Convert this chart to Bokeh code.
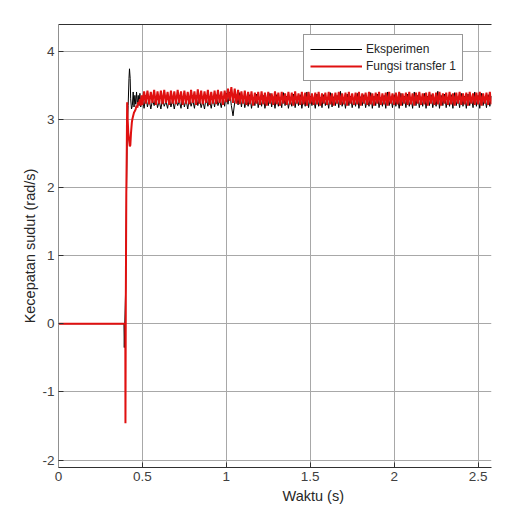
import numpy as np
from bokeh.plotting import figure
from bokeh.models import (Range1d, LinearAxis, FixedTicker, Legend, LegendItem, Title)
from bokeh.embed import file_html
from bokeh.resources import INLINE

# ---------------- data ----------------
# transient part, Eksperimen (black)
t_exp_tr = [0.0, 0.39, 0.392, 0.395, 0.40, 0.405, 0.41, 0.415, 0.42, 0.423, 0.427,
            0.43, 0.435, 0.44, 0.445, 0.45, 0.455, 0.46, 0.465, 0.47, 0.475,
            0.48, 0.485, 0.49, 0.495]
v_exp_tr = [0.0, 0.0, -0.35, 0.0, 0.5, 1.9, 2.9, 3.2, 3.6, 3.74, 3.6,
            3.3, 3.15, 3.2, 3.4, 3.18, 3.35, 3.22, 3.4, 3.2, 3.35,
            3.2, 3.38, 3.18, 3.33]

# transient part, Fungsi transfer 1 (red)
t_tf_tr = [0.0, 0.398, 0.399, 0.401, 0.404, 0.407, 0.409, 0.412, 0.416, 0.42,
           0.425, 0.428, 0.432, 0.437, 0.44, 0.445, 0.45, 0.455, 0.46, 0.465,
           0.47, 0.475, 0.48, 0.485, 0.49, 0.495]
v_tf_tr = [0.0, 0.0, -1.46, 0.3, 1.9, 2.6, 3.25, 3.0, 2.8, 2.7,
           2.6, 2.62, 2.8, 2.95, 3.0, 3.05, 3.1, 3.12, 3.15, 3.2,
           3.17, 3.25, 3.22, 3.3, 3.2, 3.35]

# steady part, sampled every 0.01 s from 0.50 s to 2.58 s
t_steady = np.round(np.arange(0.50, 2.585, 0.01), 3)

v_exp_steady = [
    3.30, 3.16, 3.35, 3.18, 3.30, 3.15, 3.28, 3.20, 3.33, 3.17,
    3.27, 3.15, 3.30, 3.19, 3.26, 3.16, 3.32, 3.18, 3.28, 3.15,
    3.30, 3.20, 3.27, 3.16, 3.34, 3.18, 3.29, 3.15, 3.31, 3.19,
    3.28, 3.16, 3.35, 3.20, 3.30, 3.17, 3.27, 3.15, 3.33, 3.19,
    3.29, 3.16, 3.31, 3.18, 3.36, 3.20, 3.28, 3.17, 3.34, 3.19,
    3.38, 3.22, 3.40, 3.20, 3.05, 3.25, 3.36, 3.21, 3.39, 3.18,
    3.34, 3.17, 3.30, 3.19, 3.36, 3.16, 3.31, 3.20, 3.37, 3.17,
    3.32, 3.19, 3.35, 3.16, 3.30, 3.20, 3.38, 3.18, 3.33, 3.16,
    3.36, 3.19, 3.31, 3.17, 3.39, 3.20, 3.34, 3.16, 3.30, 3.19,
    3.37, 3.17, 3.33, 3.20, 3.36, 3.16, 3.31, 3.19, 3.40, 3.17,
    3.34, 3.20, 3.30, 3.16, 3.37, 3.19, 3.32, 3.17, 3.36, 3.20,
    3.31, 3.16, 3.39, 3.18, 3.33, 3.20, 3.35, 3.17, 3.41, 3.19,
    3.32, 3.16, 3.37, 3.20, 3.34, 3.17, 3.30, 3.19, 3.38, 3.16,
    3.33, 3.20, 3.36, 3.17, 3.31, 3.19, 3.39, 3.16, 3.34, 3.20,
    3.37, 3.17, 3.32, 3.19, 3.35, 3.16, 3.40, 3.20, 3.33, 3.17,
    3.36, 3.19, 3.31, 3.16, 3.38, 3.20, 3.34, 3.17, 3.37, 3.19,
    3.32, 3.16, 3.40, 3.20, 3.35, 3.17, 3.33, 3.19, 3.38, 3.16,
    3.34, 3.20, 3.36, 3.17, 3.31, 3.19, 3.41, 3.16, 3.35, 3.20,
    3.37, 3.17, 3.32, 3.19, 3.36, 3.16, 3.39, 3.20, 3.33, 3.17,
    3.38, 3.19, 3.34, 3.16, 3.37, 3.20, 3.32, 3.17, 3.40, 3.19,
    3.35, 3.16, 3.38, 3.20, 3.33, 3.17, 3.36, 3.19, 3.34,
]

v_tf_steady = [
    3.21, 3.41, 3.23, 3.42, 3.22, 3.40, 3.24, 3.43, 3.21, 3.41,
    3.23, 3.42, 3.22, 3.43, 3.24, 3.40, 3.21, 3.42, 3.23, 3.41,
    3.22, 3.43, 3.24, 3.41, 3.21, 3.42, 3.23, 3.40, 3.22, 3.43,
    3.24, 3.41, 3.21, 3.44, 3.23, 3.42, 3.22, 3.41, 3.24, 3.43,
    3.21, 3.40, 3.23, 3.42, 3.22, 3.43, 3.24, 3.41, 3.21, 3.42,
    3.25, 3.45, 3.27, 3.47, 3.24, 3.45, 3.23, 3.43, 3.22, 3.41,
    3.23, 3.42, 3.21, 3.40, 3.22, 3.41, 3.20, 3.39, 3.23, 3.40,
    3.21, 3.41, 3.22, 3.39, 3.20, 3.40, 3.23, 3.38, 3.21, 3.41,
    3.22, 3.39, 3.20, 3.40, 3.23, 3.38, 3.21, 3.40, 3.22, 3.39,
    3.20, 3.41, 3.23, 3.38, 3.21, 3.40, 3.22, 3.39, 3.20, 3.40,
    3.23, 3.38, 3.21, 3.39, 3.22, 3.40, 3.20, 3.38, 3.23, 3.39,
    3.21, 3.40, 3.22, 3.38, 3.20, 3.39, 3.23, 3.40, 3.21, 3.38,
    3.22, 3.39, 3.20, 3.40, 3.23, 3.38, 3.21, 3.39, 3.22, 3.40,
    3.20, 3.38, 3.23, 3.39, 3.21, 3.40, 3.22, 3.38, 3.20, 3.39,
    3.23, 3.40, 3.21, 3.38, 3.22, 3.39, 3.20, 3.40, 3.23, 3.38,
    3.21, 3.39, 3.22, 3.40, 3.20, 3.38, 3.23, 3.39, 3.21, 3.40,
    3.22, 3.38, 3.20, 3.39, 3.23, 3.40, 3.21, 3.38, 3.22, 3.39,
    3.20, 3.40, 3.23, 3.38, 3.21, 3.39, 3.22, 3.40, 3.20, 3.38,
    3.23, 3.39, 3.21, 3.40, 3.22, 3.38, 3.20, 3.39, 3.23, 3.40,
    3.21, 3.38, 3.22, 3.39, 3.20, 3.40, 3.23, 3.38, 3.21, 3.39,
    3.22, 3.40, 3.20, 3.38, 3.23, 3.39, 3.21, 3.40, 3.22,
]

x_ticks = [0, 0.5, 1, 1.5, 2, 2.5]
x_tick_labels = {0: "0", 0.5: "0.5", 1: "1", 1.5: "1.5", 2: "2", 2.5: "2.5"}
y_ticks = [-2, -1, 0, 1, 2, 3, 4]
y_tick_labels = {-2: "-2", -1: "-1", 0: "0", 1: "1", 2: "2", 3: "3", 4: "4"}

series_names = ["Eksperimen", "Fungsi transfer 1"]
x_label = "Waktu (s)"
y_label = "Kecepatan sudut (rad/s)"

# ---------------- build series ----------------
t_exp = list(t_exp_tr) + list(t_steady)
v_exp = list(v_exp_tr) + list(v_exp_steady)
t_tf = list(t_tf_tr) + list(t_steady)
v_tf = list(v_tf_tr) + list(v_tf_steady)

FONT = "Liberation Sans"
TICK_COLOR = "#404040"
GRID_COLOR = "#a8a8a8"

p = figure(width=514, height=532, output_backend="svg", toolbar_location=None,
           x_range=Range1d(0, 2.58), y_range=Range1d(-2.11, 4.39),
           min_border_left=58, min_border_right=23, min_border_top=24,
           min_border_bottom=65)
p.background_fill_color = "white"
p.border_fill_color = "white"
p.outline_line_color = None

for ax in (p.xaxis[0], p.yaxis[0]):
    ax.major_label_text_font = FONT
    ax.major_label_text_font_size = "13.5px"
    ax.major_label_text_color = TICK_COLOR
    ax.major_tick_in = 5
    ax.major_tick_out = 0
    ax.minor_tick_in = 0
    ax.minor_tick_out = 0
    ax.major_tick_line_color = "#303030"

p.xaxis[0].ticker = FixedTicker(ticks=x_ticks)
p.xaxis[0].major_label_overrides = x_tick_labels
p.xaxis[0].axis_line_color = "#303030"
p.xaxis[0].major_label_standoff = 4
p.yaxis[0].ticker = FixedTicker(ticks=y_ticks)
p.yaxis[0].major_label_overrides = y_tick_labels
p.yaxis[0].axis_line_color = "#909090"
p.yaxis[0].major_label_standoff = 4
p.yaxis[0].axis_label = y_label
p.yaxis[0].axis_label_text_font = FONT
p.yaxis[0].axis_label_text_font_size = "14.5px"
p.yaxis[0].axis_label_text_font_style = "normal"
p.yaxis[0].axis_label_text_color = "#262626"
p.yaxis[0].axis_label_standoff = 1

# top border as an unlabeled, tickless axis
top = LinearAxis(ticker=FixedTicker(ticks=[]), major_tick_in=0, major_tick_out=0,
                 minor_tick_in=0, minor_tick_out=0,
                 axis_line_color="#303030", major_label_standoff=0)
p.add_layout(top, "above")

# x label, placed like the original (centered under the full, cropped axes)
xt = Title(text=x_label, align="left", offset=224, text_font=FONT,
           text_font_size="14.5px", text_font_style="normal", text_color="#262626",
           standoff=4)
p.add_layout(xt, "below")

p.xgrid.grid_line_color = GRID_COLOR
p.ygrid.grid_line_color = GRID_COLOR
p.xgrid.ticker = FixedTicker(ticks=x_ticks)
p.ygrid.ticker = FixedTicker(ticks=y_ticks)

r_exp = p.line(t_exp, v_exp, line_color="black", line_width=1)
r_tf = p.line(t_tf, v_tf, line_color="#e01010", line_width=2)

legend = Legend(items=[LegendItem(label=series_names[0], renderers=[r_exp]),
                       LegendItem(label=series_names[1], renderers=[r_tf])],
                location=(245, 386), label_text_font=FONT, label_text_font_size="12px",
                label_text_color="#262626", glyph_width=52, glyph_height=16,
                label_height=16, label_standoff=4, padding=6, spacing=1,
                margin=0, border_line_color="#303030", border_line_width=1,
                background_fill_color="white", background_fill_alpha=1.0)
p.add_layout(legend, "center")

open("out.html", "w").write(file_html(p, INLINE))
